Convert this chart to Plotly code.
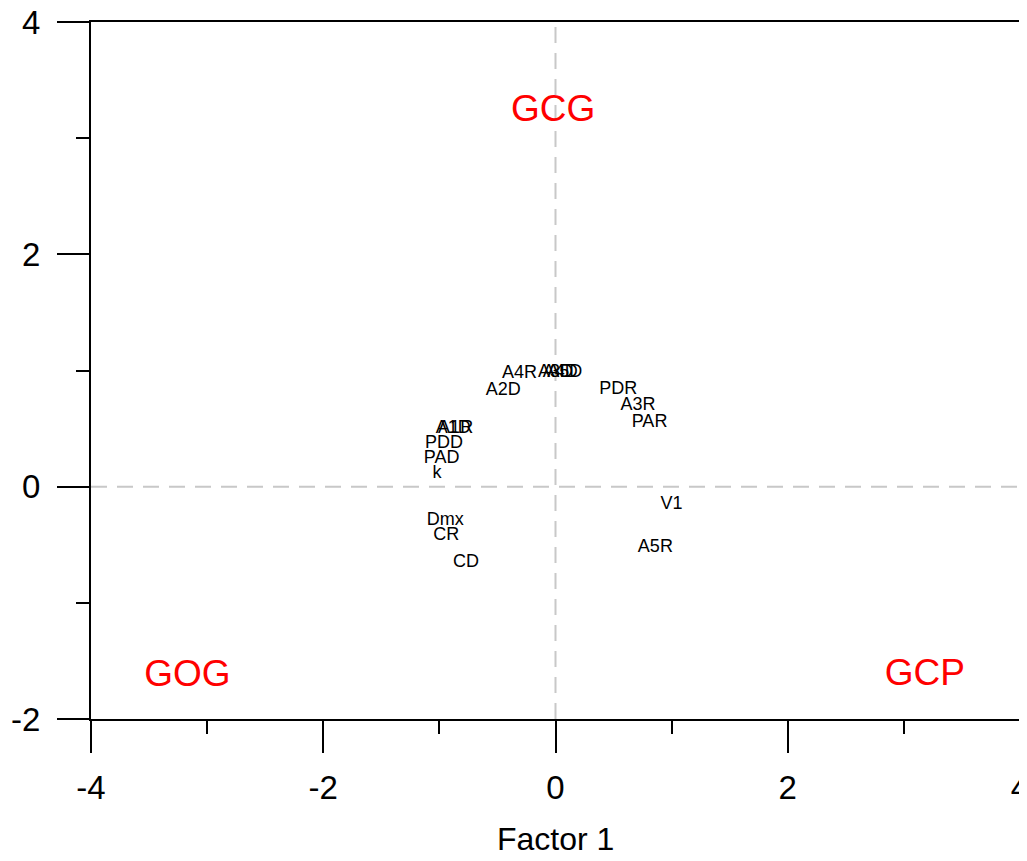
import plotly.graph_objects as go

# Variable loadings (Factor 1, Factor 2)
labels = ["A4R", "A3D", "A4D", "A5D", "A2D", "A1D", "A1R", "PDD", "PAD", "k",
          "PDR", "A3R", "PAR", "V1", "A5R", "Dmx", "CR", "CD"]
f1 = [-0.31, 0.00, 0.04, 0.08, -0.45, -0.88, -0.86, -0.96, -0.98, -1.02,
      0.54, 0.71, 0.81, 1.00, 0.86, -0.95, -0.94, -0.77]
f2 = [0.97, 0.98, 0.98, 0.98, 0.83, 0.50, 0.50, 0.37, 0.24, 0.11,
      0.84, 0.70, 0.55, -0.15, -0.52, -0.29, -0.42, -0.65]

# Group labels
group_names = ["GCG", "GOG", "GCP"]
group_x = [-0.02, -3.17, 3.18]
group_y = [3.23, -1.64, -1.63]

x_ticks = [-4, -2, 0, 2, 4]
y_ticks = [-2, 0, 2, 4]
x_title = "Factor 1"

FONT = "Liberation Sans, Arial, sans-serif"

fig = go.Figure()
fig.add_trace(go.Scatter(
    x=f1, y=f2, text=labels, mode="text", textposition="middle center",
    textfont=dict(family=FONT, size=18, color="black"), showlegend=False,
    cliponaxis=False,
))
fig.add_trace(go.Scatter(
    x=group_x, y=group_y, text=group_names, mode="text", textposition="middle center",
    textfont=dict(family=FONT, size=37, color="#ff0000"), showlegend=False,
    cliponaxis=False,
))

fig.add_vline(x=0, line=dict(color="#c8c8c8", width=2, dash="16px,10px"), layer="below")
fig.add_hline(y=0, line=dict(color="#c8c8c8", width=2, dash="16px,10px"), layer="below")

axis_common = dict(
    showgrid=False, zeroline=False, showline=True, linecolor="black", linewidth=2,
    mirror=True, ticks="outside", ticklen=32, tickwidth=2, tickcolor="black",
    automargin=False, ticklabeloverflow="allow",
    tickfont=dict(family=FONT, size=33, color="black"),
    minor=dict(ticks="outside", ticklen=13, tickwidth=2, tickcolor="black", dtick=1, showgrid=False),
)

fig.update_xaxes(range=[-4, 4], tickvals=x_ticks, ticktext=[str(v) for v in x_ticks],
                 ticklabelstandoff=6, **axis_common)
fig.update_yaxes(range=[-2, 4], tickvals=y_ticks, ticktext=[str(v) for v in y_ticks],
                 ticklabelstandoff=10, **axis_common)

# x-axis title placed as a paper annotation below the tick labels
fig.add_annotation(text=x_title, xref="paper", yref="paper", x=0.5, y=0,
                   xanchor="center", yanchor="middle", yshift=-120, showarrow=False,
                   borderpad=0, font=dict(family=FONT, size=32, color="black"))

# page body has an 8px margin: size the figure so the plot box lands where it should
fig.update_layout(
    width=1019, height=845,
    margin=dict(l=83, r=7, t=14, b=134),
    plot_bgcolor="white", paper_bgcolor="white",
)

fig.write_html("out.html")
